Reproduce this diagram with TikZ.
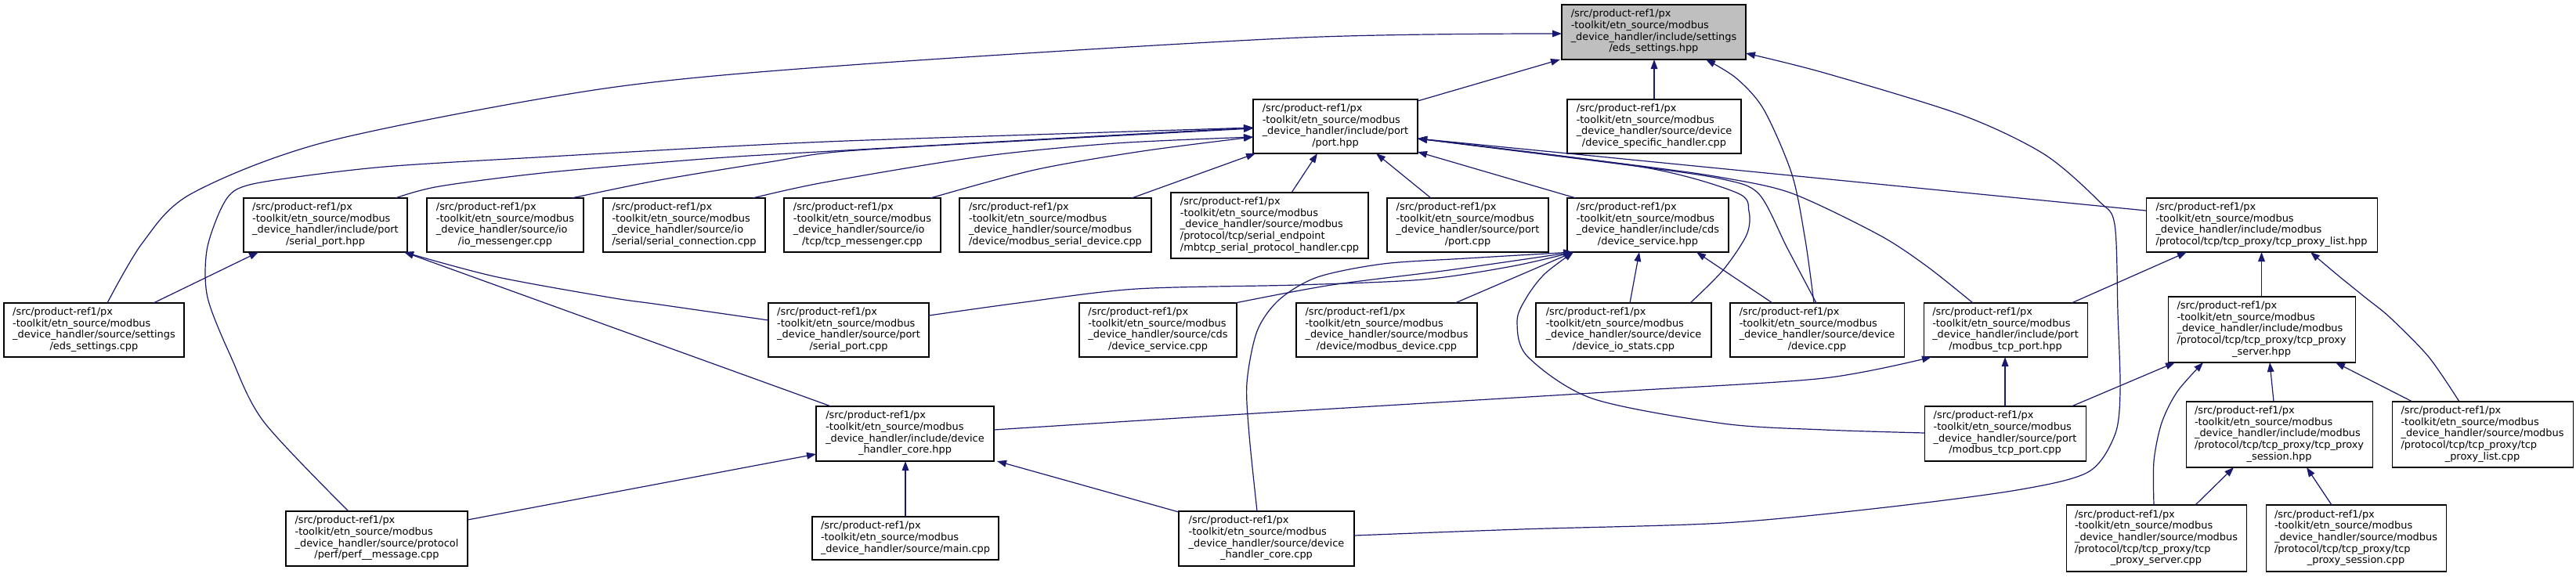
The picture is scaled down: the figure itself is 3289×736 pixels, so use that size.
\documentclass[tikz,border=0pt]{standalone}
\usepackage{fontspec}
\setmainfont{DejaVu Sans}
\usetikzlibrary{arrows.meta,calc}
\definecolor{edgeblue}{HTML}{191970}
\definecolor{focusgray}{HTML}{BFBFBF}
\newcommand{\mklbl}[2]{\begin{tabular}{@{}l@{}}#1\\\multicolumn{1}{@{}c@{}}{#2}\end{tabular}}
\newcommand{\hdr}{/src/product-ref1/px\\-toolkit/etn\_source/modbus}
\newcommand{\mkfile}[7][]{\node[filebox,#1,minimum width={(#5-#3)*0.75pt},minimum height={(#6-#4)*0.75pt}] (#2) at ({(#3+#5)/2},{(#4+#6)/2}) {#7};}
\tikzset{
  filebox/.style={draw=black,line width=0.8pt,fill=white,inner sep=0pt,outer sep=0pt,
    font=\fontsize{9.68pt}{11pt}\selectfont},
  dep/.style={draw=edgeblue,line width=0.9pt,-{Triangle[length=9pt,width=6.5pt]}}
}
\begin{document}
\begin{tikzpicture}[x=0.75pt,y=-0.75pt]
\fill[white] (0,0) rectangle (3289,736);
\useasboundingbox (0,0) rectangle (3289,736);

% nodes
\mkfile[fill=focusgray]{edsH}{1994}{6}{2229}{76}{\mklbl{\hdr\\\_device\_handler/include/settings}{/eds\_settings.hpp}}
\mkfile{portH}{1600}{127}{1810}{196}{\mklbl{\hdr\\\_device\_handler/include/port}{/port.hpp}}
\mkfile{dsh}{2001}{127}{2223}{196}{\mklbl{\hdr\\\_device\_handler/source/device}{/device\_specific\_handler.cpp}}
\mkfile{serialH}{311}{253}{520}{322}{\mklbl{\hdr\\\_device\_handler/include/port}{/serial\_port.hpp}}
\mkfile{iomsg}{545}{253}{745}{322}{\mklbl{\hdr\\\_device\_handler/source/io}{/io\_messenger.cpp}}
\mkfile{sercon}{770}{253}{977}{322}{\mklbl{\hdr\\\_device\_handler/source/io}{/serial/serial\_connection.cpp}}
\mkfile{tcpmsg}{1001}{253}{1201}{322}{\mklbl{\hdr\\\_device\_handler/source/io}{/tcp/tcp\_messenger.cpp}}
\mkfile{mbserdev}{1225}{253}{1470}{322}{\mklbl{\hdr\\\_device\_handler/source/modbus}{/device/modbus\_serial\_device.cpp}}
\mkfile{mbtcp}{1495}{246}{1747}{330}{\mklbl{\hdr\\\_device\_handler/source/modbus\\/protocol/tcp/serial\_endpoint}{/mbtcp\_serial\_protocol\_handler.cpp}}
\mkfile{portC}{1771}{253}{1977}{322}{\mklbl{\hdr\\\_device\_handler/source/port}{/port.cpp}}
\mkfile{devsvcH}{2001}{253}{2207}{322}{\mklbl{\hdr\\\_device\_handler/include/cds}{/device\_service.hpp}}
\mkfile{tplH}{2740}{253}{3035}{322}{\mklbl{\hdr\\\_device\_handler/include/modbus}{/protocol/tcp/tcp\_proxy/tcp\_proxy\_list.hpp}}
\mkfile{edsC}{5}{387}{235}{456}{\mklbl{\hdr\\\_device\_handler/source/settings}{/eds\_settings.cpp}}
\mkfile{serialC}{981}{387}{1186}{456}{\mklbl{\hdr\\\_device\_handler/source/port}{/serial\_port.cpp}}
\mkfile{devsvcC}{1378}{387}{1579}{456}{\mklbl{\hdr\\\_device\_handler/source/cds}{/device\_service.cpp}}
\mkfile{mbdevC}{1655}{387}{1886}{456}{\mklbl{\hdr\\\_device\_handler/source/modbus}{/device/modbus\_device.cpp}}
\mkfile{iostatC}{1961}{387}{2185}{456}{\mklbl{\hdr\\\_device\_handler/source/device}{/device\_io\_stats.cpp}}
\mkfile{devC}{2209}{387}{2431}{456}{\mklbl{\hdr\\\_device\_handler/source/device}{/device.cpp}}
\mkfile{mtpH}{2456}{387}{2665}{456}{\mklbl{\hdr\\\_device\_handler/include/port}{/modbus\_tcp\_port.hpp}}
\mkfile{tpsH}{2768}{379}{3007}{463}{\mklbl{\hdr\\\_device\_handler/include/modbus\\/protocol/tcp/tcp\_proxy/tcp\_proxy}{\_server.hpp}}
\mkfile{dhcH}{1042}{519}{1269}{589}{\mklbl{\hdr\\\_device\_handler/include/device}{\_handler\_core.hpp}}
\mkfile{mtpC}{2457}{519}{2663}{589}{\mklbl{\hdr\\\_device\_handler/source/port}{/modbus\_tcp\_port.cpp}}
\mkfile{tpsesH}{2791}{513}{3029}{597}{\mklbl{\hdr\\\_device\_handler/include/modbus\\/protocol/tcp/tcp\_proxy/tcp\_proxy}{\_session.hpp}}
\mkfile{tplC}{3054}{513}{3285}{597}{\mklbl{\hdr\\\_device\_handler/source/modbus\\/protocol/tcp/tcp\_proxy/tcp}{\_proxy\_list.cpp}}
\mkfile{perfC}{365}{653}{597}{723}{\mklbl{\hdr\\\_device\_handler/source/protocol}{/perf/perf\_\_message.cpp}}
\mkfile{mainC}{1037}{660}{1275}{715}{\mklbl{\hdr}{\_device\_handler/source/main.cpp}}
\mkfile{dhcC}{1505}{653}{1729}{723}{\mklbl{\hdr\\\_device\_handler/source/device}{\_handler\_core.cpp}}
\mkfile{tpsC}{2638}{645}{2868}{730}{\mklbl{\hdr\\\_device\_handler/source/modbus\\/protocol/tcp/tcp\_proxy/tcp}{\_proxy\_server.cpp}}
\mkfile{tpsesC}{2893}{645}{3123}{730}{\mklbl{\hdr\\\_device\_handler/source/modbus\\/protocol/tcp/tcp\_proxy/tcp}{\_proxy\_session.cpp}}

% edges into eds_settings.hpp
\draw[dep] ([shift={(0,2)}]portH.north east) -- ([shift={(-2,0)}]edsH.south west);
\draw[dep] (dsh.north) -- (dsh.north |- edsH.south);
\draw[dep] plot[smooth] coordinates {([shift={(132,0)}]edsC.north west) (182,310) (245,247) (421,180) (772,113) (1100,82) (1661,48) ([shift={(0,37)}]edsH.north west)};
\draw[dep] plot[smooth] coordinates {([shift={(107,0)}]devC.north west) (2305,307) (2288,223) (2252,140) (2217,100) ([shift={(184,0)}]edsH.south west)};
\draw[dep] plot[smooth] coordinates {([shift={(0,31)}]dhcC.north east) (1942,676) (2200,668) (2399,649) (2575,626) (2666,603) (2700,556) (2707,500) (2704,400) (2700,287) (2680,257) (2610,197) (2505,147) (2329,93) ([shift={(0,62)}]edsH.north east)};

% edges into port.hpp
\draw[dep] plot[smooth] coordinates {([shift={(194,0)}]serialH.north west) (561,238) (702,220) (912,202) (1080,192) (1381,175) ([shift={(0,36)}]portH.north west)};
\draw[dep] plot[smooth] coordinates {([shift={(185,0)}]iomsg.north west) (842,230) (982,207) (1080,193) (1340,178) ([shift={(0,37)}]portH.north west)};
\draw[dep] plot[smooth] coordinates {([shift={(191,0)}]sercon.north west) (1052,233) (1252,200) (1424,183) ([shift={(0,48)}]portH.north west)};
\draw[dep] plot[smooth] coordinates {([shift={(187,0)}]tcpmsg.north west) (1321,217) (1459,193) ([shift={(0,48)}]portH.north west)};
\draw[dep] plot[smooth] coordinates {([shift={(80,0)}]perfC.north west) (337,539) (295,456) (265,380) (264,320) (282,267) (302,242) (351,230) (491,213) (702,200) (912,188) (1080,180) (1381,170) ([shift={(0,36)}]portH.north west)};
\draw[dep] ([shift={(220,0)}]mbserdev.north west) -- ([shift={(3,0)}]portH.south west);
\draw[dep] ([shift={(154,0)}]mbtcp.north west) -- ([shift={(82,0)}]portH.south west);
\draw[dep] ([shift={(56,0)}]portC.north west) -- ([shift={(157,0)}]portH.south west);
\draw[dep] ([shift={(11,0)}]devsvcH.north west) -- ([shift={(0,-2)}]portH.south east);
\draw[dep] ([shift={(0,16)}]tplH.north west) -- ([shift={(0,50)}]portH.north east);
\draw[dep] plot[smooth] coordinates {([shift={(197,0)}]iostatC.north west) (2200,345) (2230,300) (2233,270) (2217,246) (2095,213) ([shift={(0,50)}]portH.north east)};
\draw[dep] plot[smooth] coordinates {([shift={(110,0)}]devC.north west) (2282,317) (2246,248) (2200,229) (2095,213) ([shift={(0,50)}]portH.north east)};
\draw[dep] plot[smooth] coordinates {([shift={(63,0)}]mtpH.north west) (2460,340) (2399,300) (2288,247) (2200,227) (2095,212) ([shift={(0,50)}]portH.north east)};

% edges into serial_port.hpp
\draw[dep] ([shift={(191,0)}]edsC.north west) -- ([shift={(19,0)}]serialH.south west);
\draw[dep] plot[smooth] coordinates {([shift={(0,22)}]serialC.north west) (842,389) (779,380) (631,353) ([shift={(-4,0)}]serialH.south east)};
\draw[dep] ([shift={(19,0)}]dhcH.north west) -- ([shift={(-4,0)}]serialH.south east);

% edges into device_service.hpp
\draw[dep] plot[smooth] coordinates {([shift={(0,16)}]serialC.north east) (1300,387) (1451,369) (1656,364) (1817,357) (1931,340) ([shift={(8,0)}]devsvcH.south west)};
\draw[dep] plot[smooth] coordinates {([shift={(199,0)}]devsvcC.north west) (1700,364) (1850,345) ([shift={(8,0)}]devsvcH.south west)};
\draw[dep] plot[smooth] coordinates {([shift={(100,0)}]dhcC.north west) (1595,556) (1592,489) (1605,423) (1633,383) (1682,354) (1766,337) (1872,330) ([shift={(7,0)}]devsvcH.south west)};
\draw[dep] ([shift={(203,0)}]mbdevC.north west) -- ([shift={(8,0)}]devsvcH.south west);
\draw[dep] plot[smooth] coordinates {([shift={(0,34)}]mtpC.north west) (2329,549) (2200,541) (2033,509) (1950,455) (1937,410) (1949,380) (1972,350) ([shift={(8,0)}]devsvcH.south west)};
\draw[dep] ([shift={(120,0)}]iostatC.north west) -- ([shift={(92,0)}]devsvcH.south west);
\draw[dep] ([shift={(54,0)}]devC.north west) -- ([shift={(165,0)}]devsvcH.south west);

% modbus_tcp_port.hpp
\draw[dep] plot[smooth] coordinates {([shift={(0,30)}]dhcH.north east) (1521,533) (1802,516) (2082,499) (2329,483) ([shift={(10,0)}]mtpH.south west)};
\draw[dep] (mtpC.north) -- (mtpC.north |- mtpH.south);

% tcp_proxy_list.hpp
\draw[dep] ([shift={(189,0)}]mtpH.north west) -- ([shift={(52,0)}]tplH.south west);
\draw[dep] (tpsH.north) -- (tpsH.north |- tplH.south);
\draw[dep] plot[smooth] coordinates {([shift={(86,0)}]tplC.north west) (3101,456) (3052,406) (3020,380) (2983,350) ([shift={(210,0)}]tplH.south west)};

% tcp_proxy_server.hpp
\draw[dep] ([shift={(188,0)}]mtpC.north west) -- ([shift={(9,0)}]tpsH.south west);
\draw[dep] plot[smooth] coordinates {([shift={(112,0)}]tpsC.north west) (2750,589) (2760,540) (2780,500) ([shift={(45,0)}]tpsH.south west)};
\draw[dep] ([shift={(112,0)}]tpsesH.north west) -- ([shift={(130,0)}]tpsH.south west);
\draw[dep] ([shift={(26,0)}]tplC.north west) -- ([shift={(214,0)}]tpsH.south west);

% tcp_proxy_session.hpp
\draw[dep] ([shift={(165,0)}]tpsC.north west) -- ([shift={(61,0)}]tpsesH.south west);
\draw[dep] ([shift={(84,0)}]tpsesC.north west) -- ([shift={(154,0)}]tpsesH.south west);

% device_handler_core.hpp
\draw[dep] ([shift={(0,11)}]perfC.north east) -- ([shift={(0,61)}]dhcH.north west);
\draw[dep] (mainC.north) -- (mainC.north |- dhcH.south);
\draw[dep] ([shift={(0,1)}]dhcC.north west) -- ([shift={(4,0)}]dhcH.south east);
\end{tikzpicture}
\end{document}
